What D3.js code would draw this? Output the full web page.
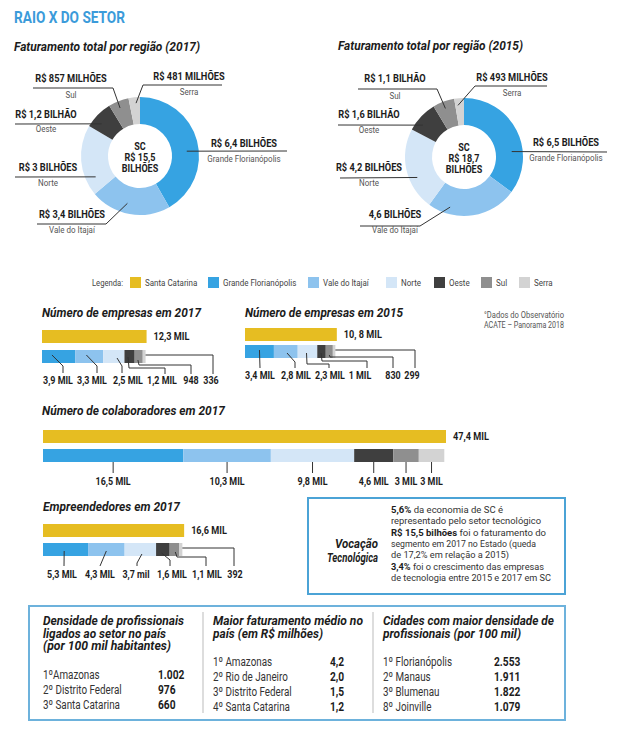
<!DOCTYPE html>
<html><head><meta charset="utf-8">
<script src="https://cdn.jsdelivr.net/npm/d3@7"></script>
<style>
body{margin:0;background:#fff;}
svg text{font-family:Roboto,"Open Sans",sans-serif;}
</style></head><body>
<svg id="c" width="640" height="742"></svg>
<script>
// ---------- DATA ----------
const regions = ["Grande Florianópolis","Vale do Itajaí","Norte","Oeste","Sul","Serra"];
const legendNames = ["Santa Catarina","Grande Florianópolis","Vale do Itajaí","Norte","Oeste","Sul","Serra"];
const fat2017 = [6.4, 3.4, 3, 1.2, 0.857, 0.481];
const fat2017Labels = ["R$ 6,4 BILHÕES","R$ 3,4 BILHÕES","R$ 3 BILHÕES","R$ 1,2 BILHÃO","R$ 857 MILHÕES","R$ 481 MILHÕES"];
const fat2017Center = ["SC","R$ 15,5","BILHÕES"];
const fat2015 = [6.5, 4.6, 4.2, 1.6, 1.1, 0.493];
const fat2015Labels = ["R$ 6,5 BILHÕES","4,6 BILHÕES","R$ 4,2 BILHÕES","R$ 1,6 BILHÃO","R$ 1,1 BILHÃO","R$ 493 MILHÕES"];
const fat2015Center = ["SC","R$ 18,7","BILHÕES"];

const empresas2017Total = 12.3, empresas2017TotalLabel = "12,3 MIL";
const empresas2017 = [3.9, 3.3, 2.5, 1.2, 0.948, 0.336];
const empresas2017Labels = ["3,9 MIL","3,3 MIL","2,5 MIL","1,2 MIL","948","336"];
const empresas2015Total = 10.8, empresas2015TotalLabel = "10, 8 MIL";
const empresas2015 = [3.4, 2.8, 2.3, 1, 0.83, 0.299];
const empresas2015Labels = ["3,4 MIL","2,8 MIL","2,3 MIL","1 MIL","830","299"];
const colab2017Total = 47.4, colab2017TotalLabel = "47,4 MIL";
const colab2017 = [16.5, 10.3, 9.8, 4.6, 3, 3];
const colab2017Labels = ["16,5 MIL","10,3 MIL","9,8 MIL","4,6 MIL","3 MIL","3 MIL"];
const empreend2017Total = 16.6, empreend2017TotalLabel = "16,6 MIL";
const empreend2017 = [5.3, 4.3, 3.7, 1.6, 1.1, 0.392];
const empreend2017Labels = ["5,3 MIL","4,3 MIL","3,7 mil","1,6 MIL","1,1 MIL","392"];

const densPaisNames = ["1ºAmazonas","2º Distrito Federal","3º Santa Catarina"];
const densPaisValues = ["1.002","976","660"];
const fatMedioNames = ["1º Amazonas","2º Rio de Janeiro","3º Distrito Federal","4º Santa Catarina"];
const fatMedioValues = ["4,2","2,0","1,5","1,2"];
const cidadesNames = ["1º Florianópolis","2º Manaus","3º Blumenau","8º Joinville"];
const cidadesValues = ["2.553","1.911","1.822","1.079"];

// ---------- STYLE ----------
const yellow = "#E6BD22";
const regionColors = ["#36A3E2","#8DC3EE","#D4E6F7","#3F3F3F","#8F8F8F","#D3D3D3"];
const legendColors = [yellow].concat(regionColors);
const ink = "#1c1c1c", grey = "#555";
const K = 0.84; // horizontal condensation of the base font

const svg = d3.select("#c");

function fit(t, o) {
  const L = t.node().getComputedTextLength();
  const target = o.w || L * (o.k || K);
  t.attr("textLength", target).attr("lengthAdjust", "spacingAndGlyphs");
}
function txt(x, y, s, o={}) {
  const t = svg.append("text").attr("x", x).attr("y", y).text(s)
    .attr("font-size", o.size || 11).attr("font-weight", o.bold ? "bold" : "normal")
    .attr("font-style", o.italic ? "italic" : "normal")
    .attr("text-anchor", o.anchor || "start").attr("fill", o.fill || ink);
  fit(t, o);
  return t;
}
function poly(pts, color) {
  svg.append("path").attr("d", d3.line()(pts)).attr("fill", "none")
    .attr("stroke", color || "#333").attr("stroke-width", 1);
}

// ---------- HEADER ----------
txt(14, 23, "RAIO X DO SETOR", {size: 16, bold: true, fill: "#3B9BDA", w: 111});
txt(14, 51, "Faturamento total por região (2017)", {size: 13, bold: true, italic: true, w: 186});
txt(338, 50, "Faturamento total por região (2015)", {size: 13, bold: true, italic: true, w: 185});

// ---------- DONUTS ----------
function donut(cx, cy, values, labels, center, layout) {
  const pie = d3.pie().sort(null).value(d => d)(values);
  const arc = d3.arc().innerRadius(32).outerRadius(59);
  svg.append("g").attr("transform", `translate(${cx},${cy})`)
    .selectAll("path").data(pie).join("path").attr("d", arc).attr("fill", (d, i) => regionColors[i]);
  center.forEach((s, k) => txt(cx, cy - 6 + k * 11, s, {size: 10, bold: true, anchor: "middle", k: 0.9}));
  pie.forEach((p, i) => {
    const L = layout[i];
    const a = p.startAngle + L.f * (p.endAngle - p.startAngle);
    const end = [cx + L.r * Math.sin(a), cy - L.r * Math.cos(a)];
    poly(L.path.concat([end]));
    txt(L.tx, L.ty, labels[i], {size: 10.5, bold: true, anchor: "middle", k: 0.88});
    txt(L.tx, L.sy, regions[i], {size: 9.5, anchor: "middle", fill: grey});
  });
}
donut(140, 156, fat2017, fat2017Labels, fat2017Center, [
  {f: .56, r: 47, tx: 244, ty: 147, sy: 162, path: [[287, 151]]},
  {f: .56, r: 49, tx: 72, ty: 218, sy: 233, path: [[37, 224], [106, 224]]},
  {f: .21, r: 49, tx: 48, ty: 171, sy: 186, path: [[15, 177]]},
  {f: .34, r: 50, tx: 46, ty: 118, sy: 132, path: [[15, 124]]},
  {f: .44, r: 52, tx: 71, ty: 82, sy: 98, path: [[33, 88], [113, 88]]},
  {f: .62, r: 53, tx: 189, ty: 80, sy: 95, path: [[222, 85], [143, 85]]}
]);
donut(464, 157, fat2015, fat2015Labels, fat2015Center, [
  {f: .66, r: 48, tx: 566, ty: 146, sy: 161, path: [[607, 152]]},
  {f: .77, r: 52, tx: 395, ty: 218, sy: 233, path: [[360, 226], [420, 226]]},
  {f: .37, r: 51, tx: 369, ty: 171, sy: 186, path: [[340, 178]]},
  {f: .32, r: 52, tx: 369, ty: 118, sy: 133, path: [[338, 125]]},
  {f: .47, r: 52, tx: 395, ty: 82, sy: 99, path: [[358, 89], [437, 89]]},
  {f: .31, r: 52, tx: 512, ty: 81, sy: 96, path: [[547, 86], [475, 86]]}
]);

// ---------- LEGEND ----------
txt(92, 286, "Legenda:", {size: 9.5, fill: "#444", w: 31});
const legendX = [130, 208, 308, 386, 434, 481, 519];
legendNames.forEach((n, i) => {
  svg.append("rect").attr("x", legendX[i]).attr("y", 277).attr("width", 11).attr("height", 11).attr("fill", legendColors[i]);
  txt(legendX[i] + 15, 286, n, {size: 9.5, fill: "#444"});
});

// ---------- BARS ----------
const xs = d3.scaleLinear().domain([0, colab2017Total]).range([0, 403]);
function stackBar(o) {
  svg.append("rect").attr("x", o.x0).attr("y", o.yT).attr("width", xs(o.total)).attr("height", 13).attr("fill", yellow);
  txt(o.x0 + xs(o.total) + 7, o.yT + 10, o.totalLabel, {size: 10.5, bold: true, k: 0.87});
  let acc = 0;
  const segs = o.values.map(v => { const s = {x: o.x0 + xs(acc), w: xs(v)}; acc += v; return s; });
  svg.append("g").selectAll("rect").data(segs).join("rect")
    .attr("x", d => d.x).attr("y", o.yS).attr("width", d => d.w).attr("height", 13)
    .attr("fill", (d, i) => regionColors[i]);
  segs.forEach((s, i) => {
    const L = o.leaders[i];
    if (L.pts) {
      const start = [s.x + L.f * s.w, o.yS + L.dy];
      poly([start].concat(L.pts));
      txt(L.lx, o.yL, o.labels[i], {size: 10.5, bold: true, anchor: "middle", k: 0.85});
    } else {
      const cxs = s.x + s.w / 2;
      poly([[cxs, o.yS + 13], [cxs, o.yS + 24]]);
      txt(cxs, o.yL, o.labels[i], {size: 10.5, bold: true, anchor: "middle", k: 0.85});
    }
  });
}

txt(42, 317, "Número de empresas em 2017", {size: 12, bold: true, italic: true, w: 159});
stackBar({x0: 42, yT: 330, yS: 350, yL: 384, total: empresas2017Total, totalLabel: empresas2017TotalLabel,
  values: empresas2017, labels: empresas2017Labels, leaders: [
    {f: .3, dy: 5, pts: [[63, 366], [63, 373]], lx: 58},
    {f: .4, dy: 5, pts: [[97, 366], [97, 373]], lx: 92},
    {f: .65, dy: 8, pts: [[122, 366], [122, 373]], lx: 128},
    {f: .35, dy: 7, pts: [[129, 368], [165, 368], [165, 374]], lx: 162},
    {f: .4, dy: 10, pts: [[139, 365], [191, 365], [191, 374]], lx: 191},
    {f: 1, dy: 5, pts: [[213, 355], [213, 374]], lx: 211}
  ]});

txt(245, 317, "Número de empresas em 2015", {size: 12, bold: true, italic: true, w: 158});
stackBar({x0: 245, yT: 328, yS: 345, yL: 379, total: empresas2015Total, totalLabel: empresas2015TotalLabel,
  values: empresas2015, labels: empresas2015Labels, leaders: [
    {f: .5, dy: 5, pts: [[260, 368]], lx: 260},
    {f: .55, dy: 8, pts: [[295, 362], [295, 368]], lx: 296},
    {f: .45, dy: 8, pts: [[307, 364], [329, 364], [329, 368]], lx: 330},
    {f: .45, dy: 8, pts: [[322, 361], [367, 361], [367, 368]], lx: 360},
    {f: .5, dy: 10, pts: [[330, 357], [393, 357], [393, 368]], lx: 393},
    {f: 1, dy: 5, pts: [[415, 350], [415, 368]], lx: 412}
  ]});

txt(484, 318, "°Dados do Observatório", {size: 8.5, fill: grey, w: 80});
txt(484, 328, "ACATE – Panorama 2018", {size: 8.5, fill: grey, w: 80});

txt(42, 415, "Número de colaboradores em 2017", {size: 12, bold: true, italic: true, w: 183});
stackBar({x0: 43, yT: 430, yS: 449, yL: 485, total: colab2017Total, totalLabel: colab2017TotalLabel,
  values: colab2017, labels: colab2017Labels, leaders: colab2017.map(() => ({}))});

txt(43, 511, "Empreendedores em 2017", {size: 12, bold: true, italic: true, w: 137});
stackBar({x0: 43, yT: 524, yS: 543, yL: 578, total: empreend2017Total, totalLabel: empreend2017TotalLabel,
  values: empreend2017, labels: empreend2017Labels, leaders: [
    {f: .47, dy: 8, pts: [[64, 566]], lx: 62},
    {f: .5, dy: 8, pts: [[100, 566]], lx: 100},
    {f: .55, dy: 11, pts: [[137, 563], [137, 566]], lx: 136},
    {f: .4, dy: 10, pts: [[170, 560], [170, 566]], lx: 172},
    {f: .6, dy: 9, pts: [[177, 557], [206, 557], [206, 566]], lx: 207},
    {f: 1, dy: 5, pts: [[234, 548], [234, 566]], lx: 235}
  ]});

// ---------- VOCAÇÃO BOX ----------
svg.append("rect").attr("x", 308).attr("y", 498).attr("width", 257).attr("height", 96)
  .attr("fill", "none").attr("stroke", "#4BA3D6").attr("stroke-width", 2);
txt(378, 548, "Vocação", {size: 12, bold: true, italic: true, anchor: "end", w: 43});
txt(378, 562, "Tecnológica", {size: 12, bold: true, italic: true, anchor: "end", w: 51});
const vocLines = [
  [["5,6%", true], [" da economia de SC é", false]],
  [["representado pelo setor tecnológico", false]],
  [["R$ 15,5 bilhões", true], [" foi o faturamento do", false]],
  [["segmento em 2017 no Estado (queda", false]],
  [["de 17,2% em relação a 2015)", false]],
  [["3,4%", true], [" foi o crescimento das empresas", false]],
  [["de tecnologia entre 2015 e 2017 em SC", false]]
];
const vocW = [112, 150, 155, 145, 118, 153, 160];
vocLines.forEach((ln, k) => {
  const t = svg.append("text").attr("x", 391).attr("y", 513 + k * 11.3).attr("font-size", 9.8).attr("fill", "#333");
  ln.forEach(([s, b]) => t.append("tspan").text(s).attr("font-weight", b ? "bold" : "normal").attr("fill", b ? ink : "#333"));
  fit(t, {w: vocW[k]});
});

// ---------- BOTTOM TABLE ----------
svg.append("rect").attr("x", 29).attr("y", 606).attr("width", 536).attr("height", 114)
  .attr("fill", "none").attr("stroke", "#6DB2DC").attr("stroke-width", 2);
poly([[203, 612], [203, 713]], "#bbb");
poly([[373, 612], [373, 713]], "#bbb");

function column(x, vx, titleLines, titleW, names, values, y0) {
  titleLines.forEach((s, k) => txt(x, 625 + k * 12.5, s, {size: 12, bold: true, italic: true, w: titleW[k]}));
  names.forEach((n, k) => {
    txt(x, y0 + k * 15, n, {size: 12, fill: "#333", k: 0.82});
    txt(vx, y0 + k * 15, values[k], {size: 12, bold: true, k: 0.85});
  });
}
column(43, 158, ["Densidade de profissionais", "ligados ao setor no país", "(por 100 mil habitantes)"], [141, 123, 128], densPaisNames, densPaisValues, 679);
column(213, 330, ["Maior faturamento médio no", "país (em R$ milhões)"], [150, 110], fatMedioNames, fatMedioValues, 666);
column(383, 494, ["Cidades com maior densidade de", "profissionais (por 100 mil)"], [171, 138], cidadesNames, cidadesValues, 666);
</script>
</body></html>
